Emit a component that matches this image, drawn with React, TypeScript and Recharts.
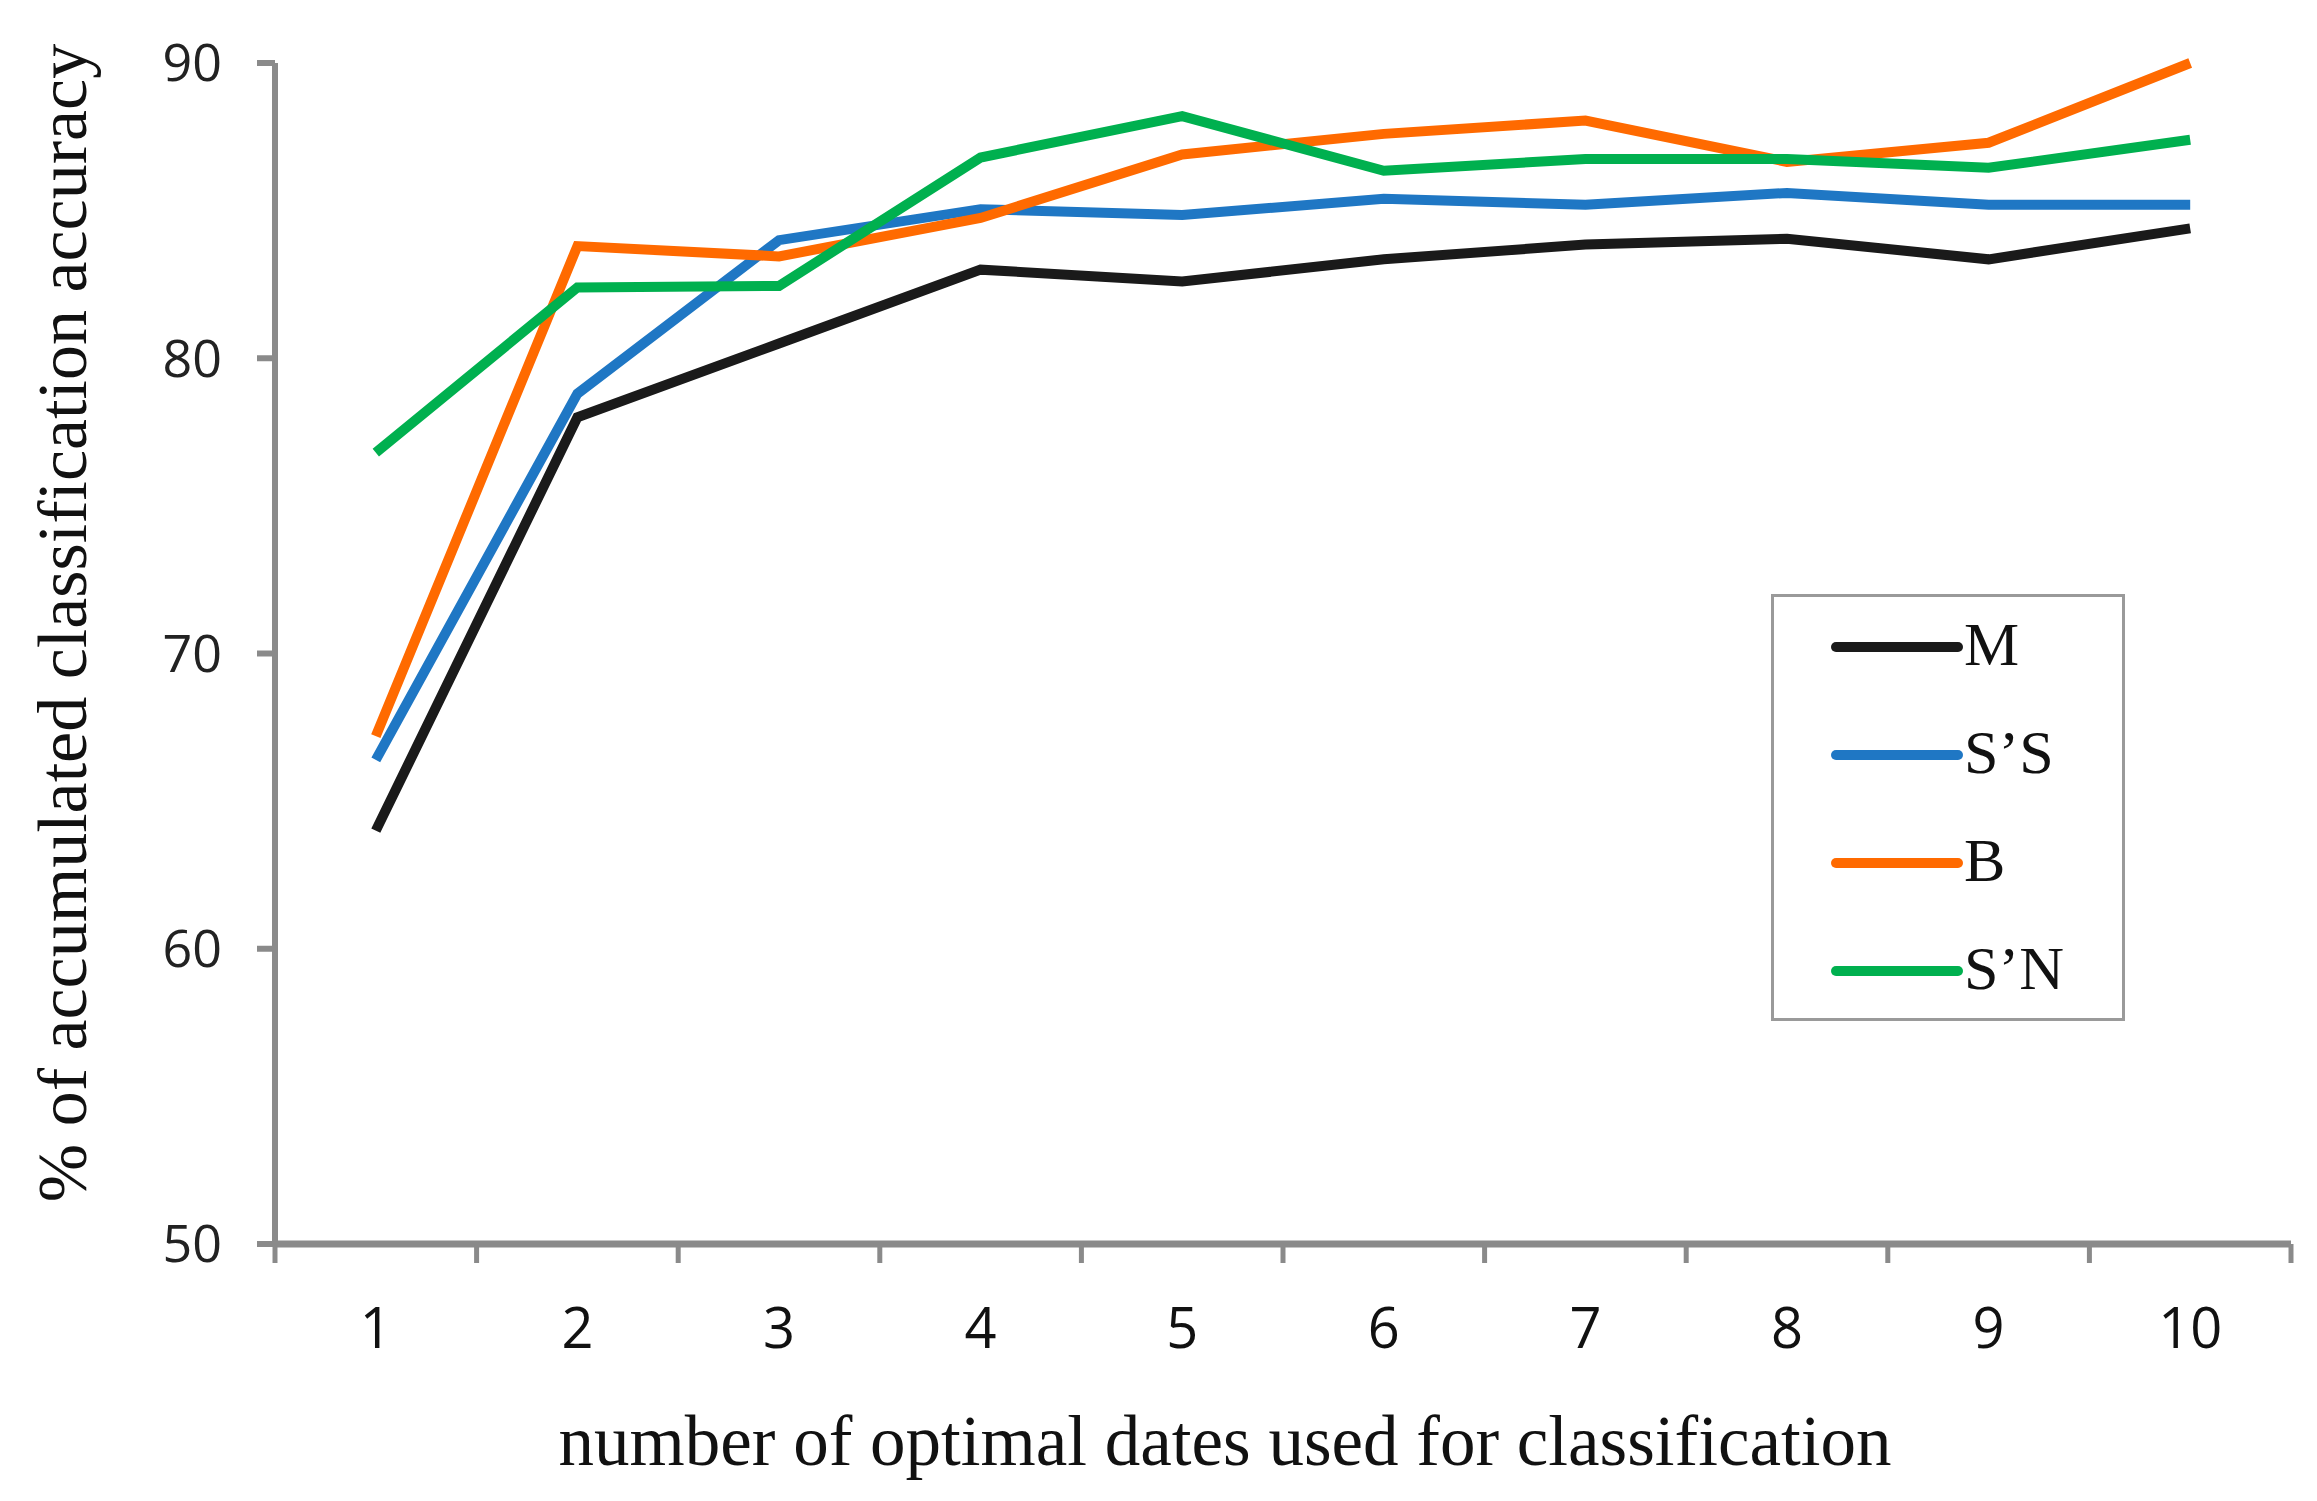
import React from 'react';
import { LineChart, Line, XAxis, YAxis, Legend, Label } from 'recharts';

// values
const categories = [1, 2, 3, 4, 5, 6, 7, 8, 9, 10];
const seriesM = [64.0, 78.0, 80.5, 83.0, 82.6, 83.35, 83.85, 84.05, 83.35, 84.4];
const seriesSS = [66.4, 78.8, 84.0, 85.05, 84.85, 85.4, 85.2, 85.6, 85.2, 85.2];
const seriesB = [67.2, 83.8, 83.45, 84.75, 86.9, 87.6, 88.05, 86.65, 87.3, 90.0];
const seriesSN = [76.8, 82.4, 82.45, 86.8, 88.2, 86.35, 86.75, 86.75, 86.45, 87.4];

const yTicks = [50, 60, 70, 80, 90];
// integer ticks carry the labels, half ticks carry the tick marks between categories
const xTicks = [0.5, 1, 1.5, 2, 2.5, 3, 3.5, 4, 4.5, 5, 5.5, 6, 6.5, 7, 7.5, 8, 8.5, 9, 9.5, 10, 10.5];

const seriesNames = ['M', 'S’S', 'B', 'S’N'];
const seriesColors = ['#1a1a1a', '#1f77c4', '#ff6a00', '#00b04f'];

const data = categories.map((c, i) => ({
  x: c,
  M: seriesM[i],
  SS: seriesSS[i],
  B: seriesB[i],
  SN: seriesSN[i],
}));

const seriesKeys = ['M', 'SS', 'B', 'SN'];

const AXIS_GRAY = '#8a8a8a';

const XTick = (props: any) => {
  const { x, y, payload } = props;
  const v = payload.value;
  if (Number.isInteger(v)) {
    return (
      <text
        x={x}
        y={y + 82}
        textAnchor="middle"
        dominantBaseline="central"
        fontFamily="'Open Sans', sans-serif"
        fontSize={56}
        fill="#111"
      >
        {v}
      </text>
    );
  }
  return <line x1={x} x2={x} y1={y} y2={y + 19} stroke={AXIS_GRAY} strokeWidth={5} />;
};

const LegendBox = (props: any) => {
  // keep the series order of the figure, not the alphabetical one
  const payload = [...(props.payload || [])].sort(
    (a: any, b: any) => seriesNames.indexOf(a.value) - seriesNames.indexOf(b.value)
  );
  return (
    <div
      style={{
        width: 354,
        height: 427,
        boxSizing: 'border-box',
        border: '3px solid #9a9a9a',
        background: '#fff',
      }}
    >
      <svg width={348} height={421}>
        {payload.map((entry: any, i: number) => {
          const cy = 50 + i * 108;
          return (
            <g key={entry.value}>
              <line x1={62} x2={184} y1={cy} y2={cy} stroke={entry.color} strokeWidth={10} strokeLinecap="round" />
              <text
                x={190}
                y={cy + 18}
                fontFamily="'Liberation Serif', 'Times New Roman', serif"
                fontSize={62}
                fill="#111"
              >
                {entry.value}
              </text>
            </g>
          );
        })}
      </svg>
    </div>
  );
};

export default function App() {
  return (
    <div style={{ width: 2317, height: 1501, background: '#fff' }}>
      <style>{`body{margin:0;}`}</style>
      <LineChart width={2317} height={1501} data={data} margin={{ top: 63, right: 26, left: 0, bottom: 0 }}>
        <XAxis
          dataKey="x"
          type="number"
          domain={[0.5, 10.5]}
          ticks={xTicks}
          interval={0}
          height={257}
          tickLine={false}
          tickSize={0}
          tickMargin={0}
          axisLine={{ stroke: AXIS_GRAY, strokeWidth: 7 }}
          tick={<XTick />}
        >
          <Label
            content={(p: any) => {
              const vb = p.viewBox || { x: 275, y: 1244 };
              return (
                <text
                  x={vb.x + 950}
                  y={vb.y + 221}
                  textAnchor="middle"
                  fontFamily="'Liberation Serif', 'Times New Roman', serif"
                  fontSize={71}
                  fill="#111"
                >
                  number of optimal dates used for classification
                </text>
              );
            }}
          />
        </XAxis>
        <YAxis
          type="number"
          domain={[50, 90]}
          ticks={yTicks}
          interval={0}
          width={275}
          tickSize={18}
          tickMargin={35}
          tickLine={{ stroke: AXIS_GRAY, strokeWidth: 6 }}
          axisLine={{ stroke: AXIS_GRAY, strokeWidth: 6 }}
          tick={{ fontFamily: "'Open Sans', sans-serif", fontSize: 52, fill: '#222' }}
        >
          <Label
            content={(p: any) => {
              const vb = p.viewBox || { x: 0, y: 63 };
              const cx = vb.x + 62;
              const cy = vb.y + 560;
              return (
                <text
                  x={cx}
                  y={cy}
                  transform={`rotate(-90 ${cx} ${cy})`}
                  textAnchor="middle"
                  dominantBaseline="central"
                  fontFamily="'Liberation Serif', 'Times New Roman', serif"
                  fontSize={70}
                  fill="#111"
                >
                  % of accumulated classification accuracy
                </text>
              );
            }}
          />
        </YAxis>
        <Legend
          layout="vertical"
          align="center"
          verticalAlign="middle"
          wrapperStyle={{ position: 'absolute', left: 1771, top: 594, width: 354, height: 427 }}
          content={<LegendBox />}
        />
        {seriesKeys.map((k, i) => (
          <Line
            key={k}
            dataKey={k}
            name={seriesNames[i]}
            stroke={seriesColors[i]}
            strokeWidth={10}
            dot={false}
            activeDot={false}
            type="linear"
            isAnimationActive={false}
          />
        ))}
      </LineChart>
    </div>
  );
}
